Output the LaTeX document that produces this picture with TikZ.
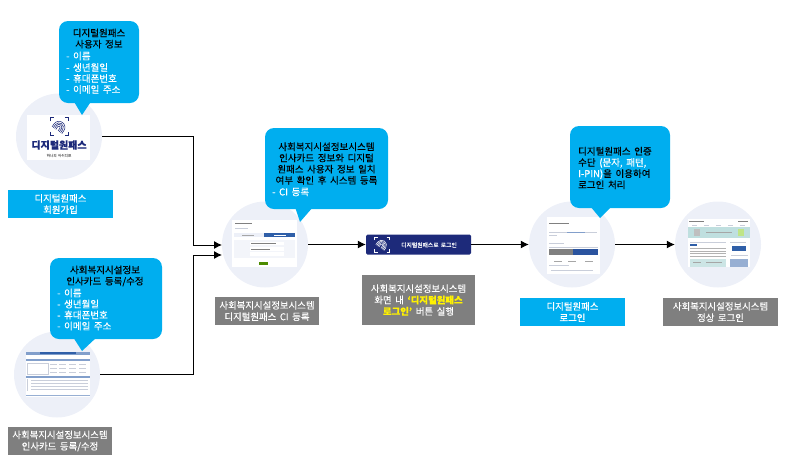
\documentclass[tikz,border=0pt]{standalone}
\usepackage{fontspec}
\setmainfont[WordSpace=1.7,RawFeature={embolden=0.25}]{Noto Sans CJK KR}
\usetikzlibrary{arrows.meta}

\definecolor{skyblue}{HTML}{00AEEF}
\definecolor{boxgray}{HTML}{7F7F7F}
\definecolor{ringfill}{HTML}{EDF0F8}
\definecolor{navy}{HTML}{1D2A7A}
\definecolor{linkgray}{HTML}{C9CEDA}
\definecolor{pageblue}{HTML}{2F5FA8}

\tikzset{
    ring/.style={circle,fill=ringfill,inner sep=0pt,minimum size=86pt},
    bubble/.style={fill=skyblue,rounded corners=9pt,inner sep=0pt},
    tail/.style={fill=skyblue},
    bluebox/.style={fill=skyblue,text=white,align=center,inner sep=0pt,font=\fontsize{9.4}{11.4}\selectfont},
    graybox/.style={fill=boxgray,text=white,align=center,inner sep=0pt,font=\fontsize{9.4}{11.4}\selectfont},
    head/.style={align=center,inner sep=0pt,font=\fontsize{9.5}{11.2}\selectfont},
    entry/.style={anchor=west,inner sep=0pt,text=white,font=\fontsize{9.5}{11.2}\selectfont},
    link/.style={draw=black,line width=1pt,-{Latex[length=8pt,width=8pt]}},
    thumbline/.style={draw=linkgray,line width=.6pt},
}

% fingerprint mark: centre, size factor, colour
\newcommand{\printmark}[3]{
    \begin{scope}[shift={(#1)},scale=#2,draw=#3]
        \foreach \r in {1.5,3.2,4.9,6.6} {
            \draw[line width=.55pt,rotate=-35] (-\r,1) -- (-\r,5) (-\r,1) arc[start angle=180,end angle=360,radius=\r] -- (\r,5);
        }
        \draw[line width=.9pt] (-10,-6) -- (-10,-10) -- (-6,-10);
        \draw[line width=.9pt] (6,-10) -- (10,-10) -- (10,-6);
        \draw[line width=.9pt] (-10,6) -- (-10,10) -- (-6,10);
        \draw[line width=.9pt] (6,10) -- (10,10) -- (10,6);
    \end{scope}
}

\begin{document}
\begin{tikzpicture}[x=1pt,y=-1pt]
    \useasboundingbox (0,0) rectangle (786,464);

    % circles
    \foreach \name/\cx/\cy in {passring/59/136.5, cardring/57/374.5, ciring/265/244.5, loginring/572/244.5, mainring/718/244.5} {
        \node[ring] (\name) at (\cx,\cy) {};
    }

    % connectors
    \coordinate (bendup) at (193,245);
    \coordinate (benddown) at (193,255);
    \coordinate (inup) at (222,245);
    \coordinate (indown) at (222,255);
    \node[fill=navy,rounded corners=1.5pt,minimum width=105pt,minimum height=20pt,inner sep=0pt] (loginbtn) at (418.5,244.5) {};
    \draw[link] (passring.east) -| (bendup) -- (inup);
    \draw[link] (cardring.east) -| (benddown) -- (indown);
    \draw[link] (ciring.east) -- (loginbtn.west);
    \draw[link] (loginbtn.east) -- (loginring.west);
    \draw[link] (loginring.east) -- (mainring.west);

    % login button
    \printmark{382,244.5}{.75}{white}
    \node[text=white,inner sep=0pt,font=\fontsize{5.8}{7}\selectfont] (btntext) at (429,245) {디지털원패스로 로그인};

    % logo
    \fill[white] (27,115) rectangle (90,160);
    \printmark{59.5,126.5}{.9}{navy}
    \node[text=navy,inner sep=0pt,font=\fontsize{10}{12}\selectfont\bfseries] (logotext) at (59,145) {디지털원패스};
    \node[text=gray,inner sep=0pt,font=\fontsize{3.6}{4}\selectfont] (logosub) at (59,155.5) {하나의 아이디로};

    % card screen
    \begin{scope}[shift={(26,352)}]
        \fill[white] (0,0) rectangle (64,45);
        \fill[pageblue!60] (0,0) rectangle (64,3);
        \fill[pageblue] (14,0) rectangle (50,2);
        \fill[pageblue!60] (0,7) rectangle (64,9);
        \draw[thumbline] (1,11) rectangle (22,22);
        \foreach \col in {24,33,43,53} {
            \draw[thumbline] (\col,12) -- (\col+7,12);
            \draw[thumbline] (\col,16) -- (\col+7,16);
            \draw[thumbline] (\col,20) -- (\col+7,20);
        }
        \fill[pageblue!60] (0,24) rectangle (64,25.5);
        \foreach \row in {28,31,34,37} {
            \draw[thumbline] (5,\row) -- (62,\row);
        }
        \draw[thumbline] (1,27) -- (1,39);
        \fill[pageblue!50] (0,43) rectangle (64,44);
    \end{scope}

    % CI screen
    \begin{scope}[shift={(232,220)}]
        \fill[white] (0,0) rectangle (65,47);
        \draw[gray,line width=.8pt] (3,3.5) -- (20,3.5);
        \draw[thumbline] (3,8) -- (16,8);
        \fill[ringfill] (2,13) rectangle (32,17);
        \draw[gray!70,line width=.5pt] (10,15) -- (22,15);
        \fill[pageblue] (32,13) rectangle (63,17);
        \draw[white,line width=.5pt] (42,15) -- (54,15);
        \fill[ringfill!70] (2,20) rectangle (63,38);
        \fill[white] (18,22) rectangle (52,25);
        \fill[white] (18,27) rectangle (52,31);
        \fill[white] (18,32) rectangle (52,36);
        \draw[gray,line width=.4pt] (19,23.5) -- (44,23.5);
        \draw[gray,line width=.4pt] (19,29) -- (38,29);
        \fill[green!35!black!70!yellow] (27,42) rectangle (36,45);
    \end{scope}

    % login screen
    \begin{scope}[shift={(547,217)}]
        \fill[white] (0,0) rectangle (53,57);
        \draw[gray,line width=.8pt] (2,6.5) -- (22,6.5);
        \draw[thumbline] (2,15) -- (50,15);
        \draw[pageblue!60,line width=.5pt] (20,15) -- (38,15);
        \draw[thumbline] (2,18) -- (10,18);
        \draw[thumbline] (2,26) -- (17,26);
        \draw[thumbline] (2,30.5) -- (51,30.5);
        \fill[gray] (2,32) rectangle (26,38);
        \fill[pageblue!80!navy] (26,32) rectangle (51,38);
        \foreach \col in {7,21,38} {
            \draw[gray!70,line width=.7pt] (\col,44) -- (\col+8,44);
        }
        \draw[thumbline] (2,48.5) -- (22,48.5);
        \draw[thumbline] (4,53) -- (46,53);
    \end{scope}

    % main screen
    \begin{scope}[shift={(688,219)}]
        \fill[white] (0,0) rectangle (62,48);
        \draw[gray,line width=.7pt] (1,2.5) -- (16,2.5);
        \draw[gray,line width=.7pt] (50,2.5) -- (60,2.5);
        \foreach \col in {4,16,28,40,52} {
            \draw[thumbline] (\col,6) -- (\col+5,6);
        }
        \fill[teal!25] (0,8) rectangle (62,19);
        \fill[gray!50] (6,10) rectangle (12,17);
        \fill[yellow!50!green!50] (50,10) rectangle (56,17);
        \draw[thumbline,draw=gray!70] (18,13.5) -- (44,13.5);
        \draw[thumbline] (2,23) -- (38,23);
        \fill[pageblue] (2,24.5) rectangle (9,27);
        \foreach \row in {29.5,32,34.5,37} {
            \draw[thumbline,draw=gray!60] (2,\row) -- (38,\row);
        }
        \fill[teal!20] (2,40) rectangle (38,48);
        \draw[gray!70,line width=.5pt] (5,43) -- (13,43);
        \draw[gray!70,line width=.5pt] (18,43) -- (34,43);
        \draw[thumbline] (42,23) -- (58,23);
        \fill[pageblue] (44,27) rectangle (58,32);
        \draw[thumbline] (43,36) -- (60,36);
        \fill[pageblue!50] (42,40) rectangle (60,48);
    \end{scope}

    % bubbles
    \fill[tail] (73,100) -- (82,115) -- (92,100) -- cycle;
    \fill[tail] (73,337) -- (82,351) -- (97,337) -- cycle;
    \fill[tail] (295,207) -- (300,222) -- (313,207) -- cycle;
    \fill[tail] (590,206) -- (600,218) -- (612,206) -- cycle;
    \node[bubble,minimum width=80pt,minimum height=82pt] (passinfo) at (99,62) {};
    \node[bubble,minimum width=112pt,minimum height=81pt] (cardinfo) at (106,298.5) {};
    \node[bubble,minimum width=123pt,minimum height=81pt] (ciinfo) at (326.5,168.5) {};
    \node[bubble,minimum width=100pt,minimum height=82pt] (logininfo) at (620,167) {};

    % bubble texts
    \node[head] (passhead) at (99,38.5) {디지털원패스\\사용자 정보};
    \foreach \entrytext/\ey in {- 이름/56, - 생년월일/67.5, - 휴대폰번호/78.5, - 이메일 주소/89.5} {
        \node[entry] at (66,\ey) {\entrytext};
    }
    \node[head] (cardhead) at (105,276) {사회복지시설정보\\인사카드 등록/수정};
    \foreach \entrytext/\ey in {- 이름/293, - 생년월일/304, - 휴대폰번호/315, - 이메일 주소/326} {
        \node[entry] at (57,\ey) {\entrytext};
    }
    \node[head] (cihead) at (326.5,163.5) {사회복지시설정보시스템\\인사카드 정보와 디지털\\원패스 사용자 정보 일치\\여부 확인 후 시스템 등록};
    \node[entry] (citail) at (272,192) {- CI 등록};
    \node[head,align=left,anchor=west] (loginhead) at (578,168) {디지털원패스 인증\\수단 \textcolor{white}{(문자, 패턴,}\\\textcolor{white}{I-PIN)}을 이용하여\\로그인 처리};

    % captions
    \node[bluebox,minimum width=105pt,minimum height=28pt] (passcap) at (60.5,204) {디지털원패스\\회원가입};
    \node[graybox,minimum width=104pt,minimum height=28pt] (cardcap) at (60,441) {사회복지시설정보시스템\\인사카드 등록/수정};
    \node[graybox,minimum width=104pt,minimum height=28pt] (cicap) at (267,311) {사회복지시설정보시스템\\디지털원패스 CI 등록};
    \node[graybox,minimum width=113pt,minimum height=50pt] (btncap) at (418.5,300) {사회복지시설정보시스템\\화면 내 \textcolor{yellow}{\bfseries ‘디지털원패스}\\\textcolor{yellow}{\bfseries 로그인’} 버튼 실행};
    \node[bluebox,minimum width=105pt,minimum height=28pt] (logincap) at (572.5,312) {디지털원패스\\로그인};
    \node[graybox,minimum width=115pt,minimum height=28pt] (maincap) at (720.5,312) {사회복지시설정보시스템\\정상 로그인};
\end{tikzpicture}
\end{document}
